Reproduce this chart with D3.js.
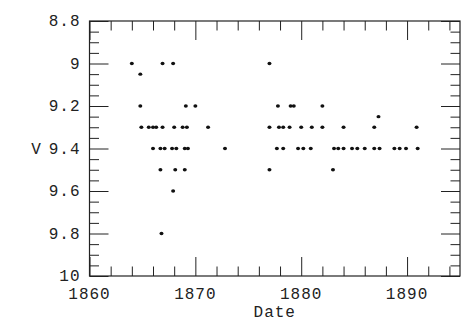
<!DOCTYPE html>
<html>
<head>
<meta charset="utf-8">
<script src="https://cdn.jsdelivr.net/npm/d3@7"></script>
<style>
  body { margin: 0; background: #fff; }
  text { font-family: "Liberation Mono", "DejaVu Sans Mono", monospace; fill: #222; }
</style>
</head>
<body>
<div id="chart"></div>
<script>
// observation dates (decimal years) and V magnitudes
const dates = [
    1864.0, 1866.9, 1867.9,
    1864.8,
    1864.8, 1869.1, 1870.0,
    1864.9, 1865.6, 1866.0, 1866.3, 1866.9, 1868.0, 1868.8, 1869.2, 1871.2,
    1866.0, 1866.7, 1867.1, 1867.8, 1868.2, 1869.0, 1869.3, 1872.8,
    1866.7, 1868.1, 1869.0,
    1867.9,
    1866.8,
    1877.0,
    1877.8, 1879.0, 1879.3, 1882.0,
    1887.3,
    1877.0, 1877.9, 1878.3, 1878.9, 1880.0, 1881.0, 1882.0, 1884.0, 1886.9, 1890.9,
    1877.7, 1878.3, 1879.7, 1880.2, 1880.9, 1883.1, 1883.5, 1884.0, 1884.8, 1885.3,
    1886.0, 1886.9, 1887.4, 1888.8, 1889.3, 1889.9, 1891.0,
    1877.0, 1883.0
];
const vmag = [
    9.0, 9.0, 9.0,
    9.05,
    9.2, 9.2, 9.2,
    9.3, 9.3, 9.3, 9.3, 9.3, 9.3, 9.3, 9.3, 9.3,
    9.4, 9.4, 9.4, 9.4, 9.4, 9.4, 9.4, 9.4,
    9.5, 9.5, 9.5,
    9.6,
    9.8,
    9.0,
    9.2, 9.2, 9.2, 9.2,
    9.25,
    9.3, 9.3, 9.3, 9.3, 9.3, 9.3, 9.3, 9.3, 9.3, 9.3,
    9.4, 9.4, 9.4, 9.4, 9.4, 9.4, 9.4, 9.4, 9.4, 9.4,
    9.4, 9.4, 9.4, 9.4, 9.4, 9.4, 9.4,
    9.5, 9.5
];
const xTickLabels = [1860, 1870, 1880, 1890];
const yTickLabels = [8.8, 9, 9.2, 9.4, 9.6, 9.8, 10];

const points = dates.map((d, i) => ({ date: d, v: vmag[i] }));

const width = 461, height = 322;
const margin = { top: 21, right: 1, bottom: 46, left: 89.5 };
const innerW = width - margin.left - margin.right;
const innerH = height - margin.top - margin.bottom;

const svg = d3.select("#chart").append("svg")
    .attr("width", width)
    .attr("height", height);

const g = svg.append("g")
    .attr("transform", `translate(${margin.left},${margin.top})`);

const x = d3.scaleLinear().domain([1860, 1895]).range([0, innerW]);
const y = d3.scaleLinear().domain([8.8, 10]).range([0, innerH]);

// minor ticks every 2 years / 0.05 mag, majors every 10 years / 0.2 mag
const xMinor = d3.range(1862, 1895, 2).filter(t => t % 10 !== 0);
const yMinor = d3.range(8.85, 10, 0.05).filter(t => Math.abs(t * 5 - Math.round(t * 5)) > 0.01);
const major = 19, minor = 9.5;

function tickAxis(axisFn, scale, values, size) {
    return axisFn(scale).tickValues(values).tickSize(size).tickFormat("");
}

// bottom
g.append("g").attr("transform", `translate(0,${innerH})`)
    .call(tickAxis(d3.axisTop, x, xTickLabels, major));
g.append("g").attr("transform", `translate(0,${innerH})`)
    .call(tickAxis(d3.axisTop, x, xMinor, minor));
// top
g.append("g").call(tickAxis(d3.axisBottom, x, xTickLabels, major));
g.append("g").call(tickAxis(d3.axisBottom, x, xMinor, minor));
// left
g.append("g").call(tickAxis(d3.axisRight, y, yTickLabels, major));
g.append("g").call(tickAxis(d3.axisRight, y, yMinor, minor));
// right
g.append("g").attr("transform", `translate(${innerW},0)`)
    .call(tickAxis(d3.axisLeft, y, yTickLabels, major));
g.append("g").attr("transform", `translate(${innerW},0)`)
    .call(tickAxis(d3.axisLeft, y, yMinor, minor));

g.selectAll(".domain").remove();
g.selectAll(".tick line").attr("stroke", "#222").attr("stroke-width", 1);

g.append("rect")
    .attr("width", innerW)
    .attr("height", innerH)
    .attr("fill", "none")
    .attr("stroke", "#222")
    .attr("stroke-width", 1.2);

// tick labels
g.selectAll(".xlab").data(xTickLabels).join("text")
    .attr("x", d => x(d))
    .attr("y", innerH + 23)
    .attr("text-anchor", "middle")
    .attr("font-size", 16)
    .attr("letter-spacing", 1)
    .text(d => d);

g.selectAll(".ylab").data(yTickLabels).join("text")
    .attr("x", -9)
    .attr("y", d => y(d) + 5)
    .attr("text-anchor", "end")
    .attr("font-size", 16)
    .attr("letter-spacing", 1)
    .text(d => d);

// axis titles
svg.append("text")
    .attr("x", margin.left + innerW / 2)
    .attr("y", 317)
    .attr("text-anchor", "middle")
    .attr("font-size", 16)
    .attr("letter-spacing", 1)
    .text("Date");

svg.append("text")
    .attr("x", 36)
    .attr("y", margin.top + y(9.4) + 5)
    .attr("text-anchor", "middle")
    .attr("font-size", 16)
    .text("V");

// data points
g.selectAll(".pt").data(points).join("ellipse")
    .attr("cx", d => x(d.date))
    .attr("cy", d => y(d.v))
    .attr("rx", 2)
    .attr("ry", 1.7)
    .attr("fill", "#111");
</script>
</body>
</html>
